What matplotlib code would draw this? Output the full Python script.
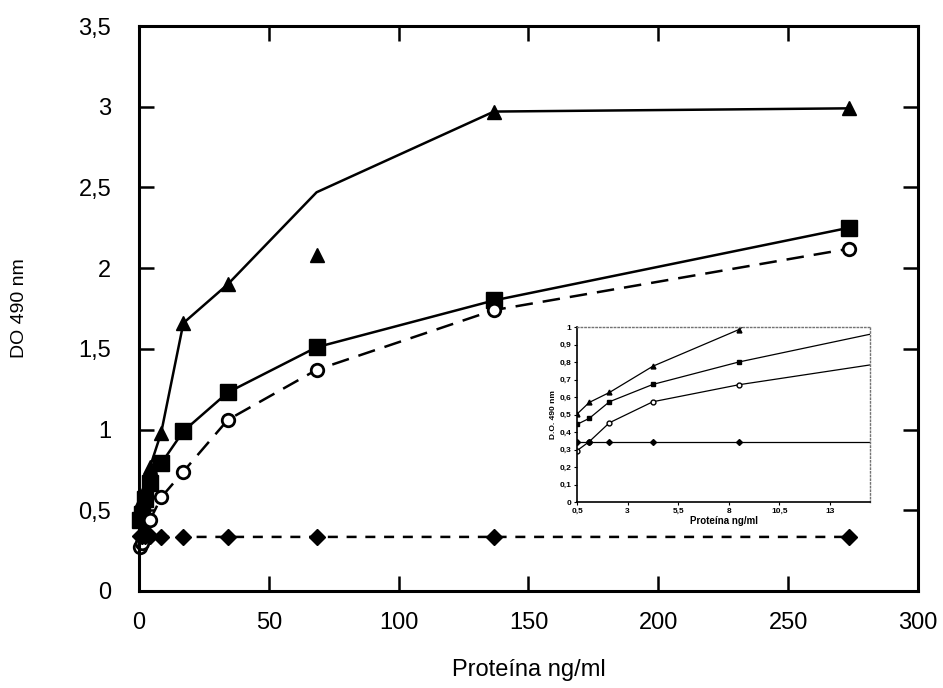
import numpy as np
import matplotlib
matplotlib.use("Agg")
from matplotlib import pyplot as plt

plt.rcParams['font.family'] = ['Liberation Sans', 'DejaVu Sans']

# Concentraciones (diluciones seriadas)
conc = [0.53, 1.07, 2.14, 4.27, 8.54, 17.1, 34.2, 68.4, 136.7, 273.4]

# Gráfico principal
triangulos = [0.50, 0.57, 0.63, 0.77, 0.98, 1.66, 1.90, 2.08, 2.97, 2.99]
triangulos_linea = [0.50, 0.57, 0.63, 0.77, 0.98, 1.66, 1.90, 2.47, 2.97, 2.99]
cuadrados = [0.44, 0.48, 0.57, 0.67, 0.79, 0.99, 1.23, 1.51, 1.80, 2.25]
circulos = [0.27, 0.30, 0.35, 0.44, 0.58, 0.74, 1.06, 1.37, 1.74, 2.12]
rombos = [0.34, 0.34, 0.34, 0.34, 0.335, 0.335, 0.335, 0.335, 0.335, 0.335]

# Inserto (zona de bajas concentraciones)
conc_ins = [0.5, 1.1, 2.1, 4.25, 8.5, 17.1]
tri_ins = [0.503, 0.569, 0.626, 0.776, 0.985, 1.66]
cua_ins = [0.444, 0.478, 0.573, 0.672, 0.80, 1.01]
cir_ins = [0.294, 0.345, 0.453, 0.573, 0.67, 0.82]
rom_ins = [0.345, 0.345, 0.345, 0.345, 0.345, 0.345]

fig = plt.figure(figsize=(9.43, 6.88), dpi=100)
ax = fig.add_axes([0.1474, 0.141, 0.826, 0.8212])

lw = 1.8
ax.plot(conc, triangulos_linea, color="black", lw=lw)
ax.plot(conc, triangulos, "^", color="black", ms=10, ls="none", clip_on=False)
ax.plot(conc, cuadrados, "s-", color="black", lw=lw, ms=12, clip_on=False)
ax.plot(conc, circulos, "o", color="black", mfc="white", mew=2, ms=9,
        ls="--", dashes=(7, 4), lw=lw, clip_on=False)
ax.plot(conc, rombos, "D", color="black", ms=8, ls="--", dashes=(4, 3.5),
        lw=lw, clip_on=False)

ax.set_xlim(0, 300)
ax.set_ylim(0, 3.5)
ax.set_xticks(np.arange(0, 301, 50))
ax.set_yticks(np.arange(0, 3.51, 0.5))
ax.set_yticklabels(["0", "0,5", "1", "1,5", "2", "2,5", "3", "3,5"])
ax.tick_params(direction="in", length=11, width=1.8, top=True, right=True,
               labelsize=17, pad=15)
ax.tick_params(axis="y", pad=20)
for s in ax.spines.values():
    s.set_linewidth(2.2)
ax.set_xlabel("Proteína ng/ml", fontsize=17, labelpad=18)
ax.set_ylabel("DO 490 nm", fontsize=14, labelpad=36)

# Inserto
axi = fig.add_axes([0.612, 0.2703, 0.3107, 0.2544])
lwi = 0.9
axi.plot(conc_ins, tri_ins, "^-", color="black", lw=lwi, ms=3.5)
axi.plot(conc_ins, cua_ins, "s-", color="black", lw=lwi, ms=3.5)
axi.plot(conc_ins, cir_ins, "o-", color="black", mfc="white", lw=lwi, ms=3.5)
axi.plot(conc_ins, rom_ins, "D-", color="black", lw=lwi, ms=3)
axi.set_xlim(0.5, 15)
axi.set_ylim(0, 1)
axi.set_xticks([0.5, 3, 5.5, 8, 10.5, 13])
axi.set_xticklabels(["0,5", "3", "5,5", "8", "10,5", "13"])
axi.set_yticks(np.arange(0, 1.01, 0.1))
axi.set_yticklabels(["0", "0,1", "0,2", "0,3", "0,4", "0,5", "0,6", "0,7",
                     "0,8", "0,9", "1"])
axi.tick_params(labelsize=6, length=2, width=0.8, pad=2)
for lab in axi.get_xticklabels() + axi.get_yticklabels():
    lab.set_fontweight("bold")
axi.spines["left"].set_linewidth(1.2)
axi.spines["bottom"].set_linewidth(1.2)
for side in ["top", "right"]:
    axi.spines[side].set_linestyle(":")
    axi.spines[side].set_color("0.45")
    axi.spines[side].set_linewidth(1)
axi.set_xlabel("Proteína ng/ml", fontsize=7, fontweight="bold", labelpad=1)
axi.set_ylabel("D.O. 490 nm", fontsize=6, fontweight="bold", labelpad=2)

fig.savefig("out.png", dpi=100)
